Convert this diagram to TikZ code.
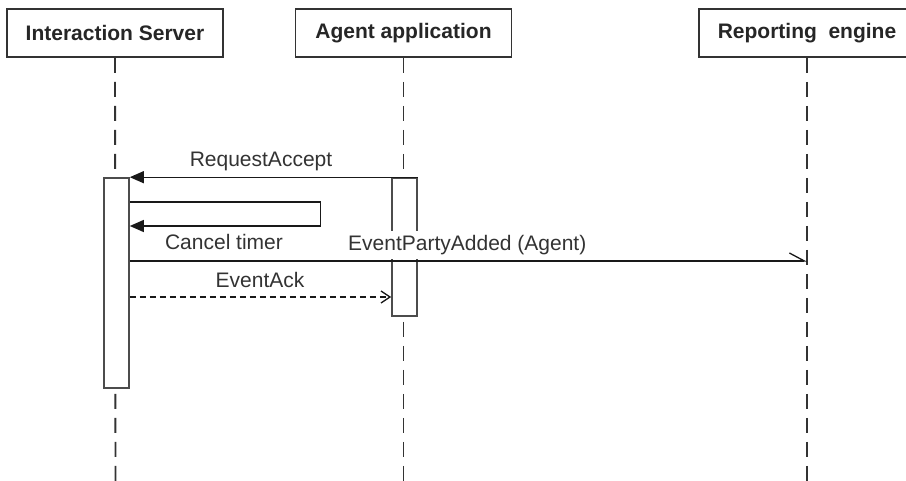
\documentclass[tikz,border=0pt]{standalone}
\usepackage{fontspec}
\setmainfont{Liberation Sans}
\usetikzlibrary{arrows.meta}
\begin{document}
\begin{tikzpicture}[x=1pt,y=-1pt,
  head/.style={draw=black!80, line width=1.6pt, minimum width=216pt, minimum height=48pt, font=\fontsize{21}{25}\selectfont\bfseries, text=black!85, inner sep=0pt},
  life/.style={draw=black!80, line width=1.9pt, dash pattern=on 15pt off 9pt},
  act/.style={draw=black!70, fill=white, line width=1.6pt, minimum width=25pt, inner sep=0pt},
  msg/.style={draw=black!90, line width=1.3pt},
  lbl/.style={font=\fontsize{21}{25}\selectfont, text=black!80, inner sep=0pt},
  filledhead/.style={-{Triangle[length=14pt,width=12pt]}},
]
\useasboundingbox (0,0) rectangle (906,481);
\clip (0,0) rectangle (906,481);
\fill[white] (0,0) rectangle (906,481);

% headers
\node[head] (is) at (115,33) {Interaction Server};
\node[head] (aa) at (403.5,33) {Agent application};
\node[head] (re) at (807,33) {Reporting\ \ engine};

% lifelines
\coordinate (isend) at (115.5,481);
\coordinate (aaend) at (403.5,481);
\coordinate (reend) at (807,481);
\draw[life] (is.south) -- (isend);
\draw[life] (aa.south) -- (aaend);
\draw[life] (re.south) -- (reend);

% activations
\node[act, minimum height=210pt] (isact) at (116.5,283) {};
\node[act, minimum height=138pt] (aaact) at (404.5,247) {};

% RequestAccept
\draw[msg, filledhead] (aaact.north east) -- (isact.north east);
\node[lbl] (lra) at (261,161) {RequestAccept};

% Cancel timer (self message)
\coordinate (s1) at (isact.east |- 0,202);
\coordinate (s2) at (isact.east |- 0,226);
\draw[msg, filledhead] (s1) -- ++(191,0) -- ++(0,24) -- (s2);
\node[lbl] (lct) at (224,242) {Cancel timer};

% EventPartyAdded
\coordinate (e1) at (isact.east |- 0,261);
\coordinate (e2) at (re.south |- 0,261);
\draw[msg, -{Straight Barb[left,length=15pt,width=16pt]}] (e1) -- (e2);
\node[lbl, fill=white, inner xsep=1pt, inner ysep=4pt, anchor=west] (lep) at (347,245) {EventPartyAdded (Agent)};

% EventAck
\coordinate (k1) at (isact.east |- 0,297);
\coordinate (k2) at (aaact.west |- 0,297);
\draw[msg, dash pattern=on 6pt off 4pt, -{Straight Barb[length=9pt,width=12pt]}] (k1) -- (k2);
\node[lbl] (lea) at (260,280) {EventAck};
\end{tikzpicture}
\end{document}
